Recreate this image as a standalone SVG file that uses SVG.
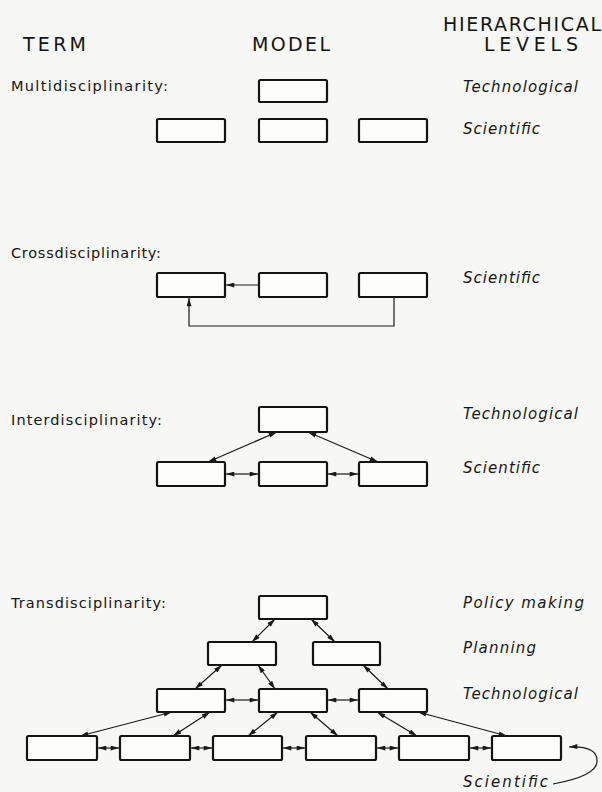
<svg xmlns="http://www.w3.org/2000/svg" width="602" height="792" viewBox="0 0 602 792">
<style>
.bg{fill:#f7f7f5}
.box{fill:#fdfdfc;stroke:#141414;stroke-width:2.2}
.hd{font-family:"DejaVu Sans","Liberation Sans",sans-serif;font-size:19px;fill:#151515}
.lb{font-family:"DejaVu Sans","Liberation Sans",sans-serif;font-size:14.5px;fill:#151515}
.lv{font-family:"DejaVu Sans","Liberation Sans",sans-serif;font-size:15px;font-style:italic;fill:#151515}
.c{fill:none;stroke:#1a1a1a;stroke-width:1.2}
.a1{marker-end:url(#ah)}
.a2{marker-start:url(#ah);marker-end:url(#ah)}
</style>
<defs>
<marker id="ah" viewBox="0 0 10 6" refX="10" refY="3" markerWidth="9" markerHeight="5" markerUnits="userSpaceOnUse" orient="auto-start-reverse">
<path d="M0,0 L10,3 L0,6 z" fill="#1a1a1a"/>
</marker>
</defs>
<rect class="bg" x="0" y="0" width="602" height="792"/>

<g id="headers">
<text class="hd" x="23" y="51" textLength="63" lengthAdjust="spacing">TERM</text>
<text class="hd" x="252" y="51" textLength="78" lengthAdjust="spacing">MODEL</text>
<text class="hd" x="443" y="31" textLength="158" lengthAdjust="spacing">HIERARCHICAL</text>
<text class="hd" x="484" y="51" textLength="94" lengthAdjust="spacing">LEVELS</text>
</g>

<g id="multi">
<text class="lb" x="11" y="91" textLength="157" lengthAdjust="spacing">Multidisciplinarity:</text>
<text class="lv" x="463" y="92" textLength="115" lengthAdjust="spacing">Technological</text>
<text class="lv" x="463" y="134" textLength="77" lengthAdjust="spacing">Scientific</text>
<g id="m-top"><rect class="box" x="259" y="80" width="68" height="22" rx="1.5"/></g>
<g id="m-s1"><rect class="box" x="157" y="119" width="68" height="23" rx="1.5"/></g>
<g id="m-s2"><rect class="box" x="259" y="119" width="68" height="23" rx="1.5"/></g>
<g id="m-s3"><rect class="box" x="359" y="119" width="68" height="23" rx="1.5"/></g>
</g>

<g id="cross">
<text class="lb" x="11" y="258" textLength="150" lengthAdjust="spacing">Crossdisciplinarity:</text>
<text class="lv" x="463" y="283" textLength="77" lengthAdjust="spacing">Scientific</text>
<g id="c-s1"><rect class="box" x="157" y="273" width="68" height="24" rx="1.5"/></g>
<g id="c-s2"><rect class="box" x="259" y="273" width="68" height="24" rx="1.5"/></g>
<g id="c-s3"><rect class="box" x="359" y="273" width="68" height="24" rx="1.5"/></g>
</g>

<g id="inter">
<text class="lb" x="11" y="425" textLength="151" lengthAdjust="spacing">Interdisciplinarity:</text>
<text class="lv" x="463" y="419" textLength="115" lengthAdjust="spacing">Technological</text>
<text class="lv" x="463" y="473" textLength="77" lengthAdjust="spacing">Scientific</text>
<g id="i-top"><rect class="box" x="259" y="407" width="68" height="25" rx="1.5"/></g>
<g id="i-s1"><rect class="box" x="157" y="462" width="68" height="24" rx="1.5"/></g>
<g id="i-s2"><rect class="box" x="259" y="462" width="68" height="24" rx="1.5"/></g>
<g id="i-s3"><rect class="box" x="359" y="462" width="68" height="24" rx="1.5"/></g>
</g>

<g id="trans">
<text class="lb" x="11" y="608" textLength="155" lengthAdjust="spacing">Transdisciplinarity:</text>
<text class="lv" x="463" y="608" textLength="121" lengthAdjust="spacing">Policy making</text>
<text class="lv" x="463" y="653" textLength="73" lengthAdjust="spacing">Planning</text>
<text class="lv" x="463" y="699" textLength="115" lengthAdjust="spacing">Technological</text>
<text class="lv" x="463" y="787" textLength="85" lengthAdjust="spacing">Scientific</text>
<g id="t-p"><rect class="box" x="259" y="596" width="68" height="23" rx="1.5"/></g>
<g id="t-pl1"><rect class="box" x="208" y="642" width="68" height="23" rx="1.5"/></g>
<g id="t-pl2"><rect class="box" x="313" y="642" width="67" height="23" rx="1.5"/></g>
<g id="t-t1"><rect class="box" x="157" y="689" width="68" height="23" rx="1.5"/></g>
<g id="t-t2"><rect class="box" x="259" y="689" width="68" height="23" rx="1.5"/></g>
<g id="t-t3"><rect class="box" x="359" y="689" width="68" height="23" rx="1.5"/></g>
<g id="t-s1"><rect class="box" x="27" y="736" width="70" height="24" rx="1.5"/></g>
<g id="t-s2"><rect class="box" x="120" y="736" width="70" height="24" rx="1.5"/></g>
<g id="t-s3"><rect class="box" x="213" y="736" width="69" height="24" rx="1.5"/></g>
<g id="t-s4"><rect class="box" x="306" y="736" width="70" height="24" rx="1.5"/></g>
<g id="t-s5"><rect class="box" x="399" y="736" width="70" height="24" rx="1.5"/></g>
<g id="t-s6"><rect class="box" x="492" y="736" width="69" height="24" rx="1.5"/></g>
</g>

<g id="connectors">
<path class="c a1" d="M259,285 L226,285"/>
<path class="c a1" d="M394,297 L394,326 L189,326 L189,298"/>
<path class="c a2" d="M277,432 L208,462"/>
<path class="c a2" d="M308,432 L378,462"/>
<path class="c a2" d="M226,474 L258,474"/>
<path class="c a2" d="M328,474 L358,474"/>
<path class="c a2" d="M275,619 L252,642"/>
<path class="c a2" d="M311,619 L335,642"/>
<path class="c a2" d="M222,665 L195,689"/>
<path class="c a2" d="M258,665 L275,689"/>
<path class="c a2" d="M363,665 L388,689"/>
<path class="c a2" d="M226,700 L258,700"/>
<path class="c a2" d="M328,700 L358,700"/>
<path class="c a2" d="M172,712 L80,736"/>
<path class="c a2" d="M210,712 L173,736"/>
<path class="c a2" d="M278,712 L248,736"/>
<path class="c a2" d="M310,712 L338,736"/>
<path class="c a2" d="M377,712 L417,736"/>
<path class="c a2" d="M418,712 L507,736"/>
<path class="c a2" d="M98,748 L119,748"/>
<path class="c a2" d="M191,748 L212,748"/>
<path class="c a2" d="M283,748 L305,748"/>
<path class="c a2" d="M377,748 L398,748"/>
<path class="c a2" d="M470,748 L491,748"/>
<path class="c a1" d="M553,784 C575,780 596,774 597,762 C598,751 588,746 569,747"/>
</g>
</svg>
